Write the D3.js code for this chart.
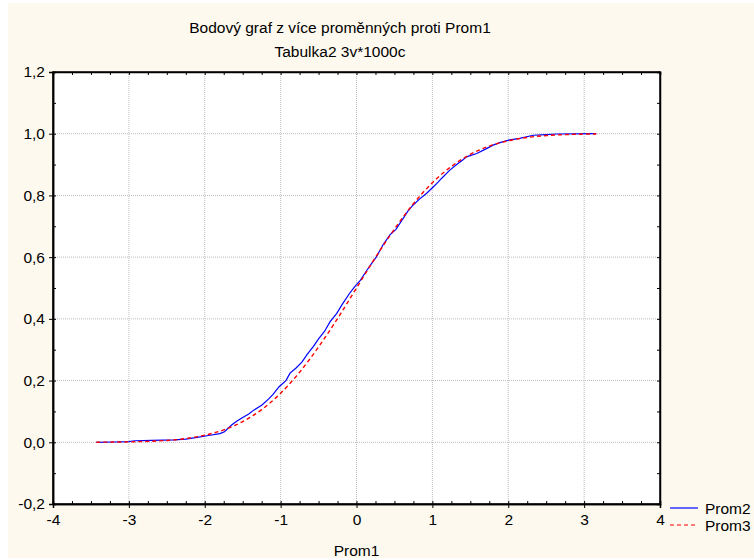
<!DOCTYPE html>
<html>
<head>
<meta charset="utf-8">
<script src="https://cdn.jsdelivr.net/npm/d3@7"></script>
<style>
  body { margin: 0; background: #fff; }
  svg { display: block; font-family: "Liberation Sans", Arial, sans-serif; }
</style>
</head>
<body>
<div id="chart"></div>
<script>
// Prom2: empirical curve (blue, solid)
const prom2X = [-3.43, -3.2, -3.0, -2.92, -2.7, -2.4, -2.25, -2.1, -1.95, -1.8, -1.74, -1.65, -1.58, -1.5,
  -1.42, -1.35, -1.25, -1.16, -1.1, -1.02, -0.93, -0.876, -0.8, -0.72, -0.65, -0.57, -0.5, -0.42, -0.35,
  -0.26, -0.18, -0.09, -0.02, 0.05, 0.13, 0.2, 0.26, 0.35, 0.44, 0.52, 0.6, 0.68, 0.75, 0.83, 0.925, 1.0,
  1.06, 1.12, 1.23, 1.32, 1.4, 1.45, 1.585, 1.7, 1.8, 1.9, 2.02, 2.15, 2.33, 2.5, 2.64, 3.16];
const prom2Y = [0.0, 0.001, 0.002, 0.005, 0.006, 0.008, 0.01, 0.016, 0.022, 0.028, 0.034, 0.055, 0.068, 0.08,
  0.092, 0.105, 0.12, 0.14, 0.155, 0.18, 0.2, 0.224, 0.24, 0.26, 0.285, 0.31, 0.335, 0.36, 0.39,
  0.418, 0.45, 0.483, 0.505, 0.525, 0.555, 0.58, 0.6, 0.64, 0.672, 0.69, 0.72, 0.75, 0.77, 0.788, 0.807, 0.825,
  0.839, 0.855, 0.882, 0.9, 0.915, 0.925, 0.936, 0.95, 0.963, 0.972, 0.98, 0.985, 0.995, 0.997, 0.999, 1.0];

// Prom3: smooth curve (red, dashed)
const prom3X = [-3.43, -3.25, -3.0, -2.75, -2.5, -2.25, -2.0, -1.75, -1.5, -1.25, -1.0, -0.75, -0.5, -0.25,
  0, 0.25, 0.5, 0.75, 1.0, 1.25, 1.5, 1.75, 2.0, 2.25, 2.5, 2.75, 3.0, 3.16];
const prom3Y = [0.0003, 0.0006, 0.0013, 0.003, 0.006, 0.012, 0.023, 0.04, 0.067, 0.106, 0.159, 0.227, 0.309, 0.401,
  0.5, 0.599, 0.691, 0.773, 0.841, 0.894, 0.933, 0.96, 0.977, 0.988, 0.994, 0.997, 0.9987, 0.9992];

const xTicks = [-4, -3, -2, -1, 0, 1, 2, 3, 4];
const yTicks = [-0.2, 0, 0.2, 0.4, 0.6, 0.8, 1.0, 1.2];
const seriesNames = ['Prom2', 'Prom3'];
const titleLines = ['Bodový graf z více proměnných proti Prom1', 'Tabulka2 3v*1000c'];
const xLabel = 'Prom1';

const width = 754;
const height = 560;
const margin = {left: 53, right: 94, top: 72, bottom: 56};
const pw = width - margin.left - margin.right;
const ph = height - margin.top - margin.bottom;
const fs = 15.5;

const svg = d3.select('#chart').append('svg')
  .attr('width', width)
  .attr('height', height);

svg.append('rect')
  .attr('x', 8).attr('y', 3)
  .attr('width', width - 8).attr('height', 555)
  .attr('fill', '#fdf9ee');

const x = d3.scaleLinear().domain([-4, 4]).range([0, pw]);
const y = d3.scaleLinear().domain([-0.2, 1.2]).range([ph, 0]);
const fmt = d => d3.format('.1f')(d).replace('.', ',').replace('−', '-');

const g = svg.append('g')
  .attr('transform', `translate(${margin.left},${margin.top})`);

g.append('rect')
  .attr('width', pw).attr('height', ph)
  .attr('fill', '#fff');

// grid
g.append('g')
  .selectAll('line')
  .data(xTicks.slice(1, -1))
  .join('line')
  .attr('x1', d => x(d)).attr('x2', d => x(d))
  .attr('y1', 0).attr('y2', ph)
  .attr('stroke', '#bdbdbd')
  .attr('stroke-dasharray', '1,1');

g.append('g')
  .selectAll('line')
  .data(yTicks.slice(1, -1))
  .join('line')
  .attr('y1', d => y(d)).attr('y2', d => y(d))
  .attr('x1', 0).attr('x2', pw)
  .attr('stroke', '#bdbdbd')
  .attr('stroke-dasharray', '1,1');

// minor ticks
const xMinor = d3.range(-4, 4.001, 0.25);
const yMinor = d3.range(-0.2, 1.2001, 0.1);

g.append('g').attr('transform', `translate(0,${ph})`)
  .call(d3.axisBottom(x).tickValues(xMinor).tickSize(-3).tickFormat(''));
g.append('g')
  .call(d3.axisTop(x).tickValues(xMinor).tickSize(-3).tickFormat(''));
g.append('g')
  .call(d3.axisLeft(y).tickValues(yMinor).tickSize(-3).tickFormat(''));
g.append('g').attr('transform', `translate(${pw},0)`)
  .call(d3.axisRight(y).tickValues(yMinor).tickSize(-3).tickFormat(''));

// major ticks with labels
g.append('g')
  .attr('transform', `translate(0,${ph})`)
  .call(d3.axisBottom(x).tickValues(xTicks).tickSize(4).tickPadding(6))
  .call(a => a.selectAll('text').text(d => String(d)));

g.append('g')
  .call(d3.axisLeft(y).tickValues(yTicks).tickSize(4).tickPadding(4).tickFormat(fmt));

g.selectAll('.domain').attr('stroke', '#000').attr('stroke-width', 1.5);
g.selectAll('.tick line').attr('stroke', '#000');
g.selectAll('.tick text')
  .attr('font-family', '"Liberation Sans", Arial, sans-serif')
  .attr('font-size', fs)
  .attr('fill', '#000');

// frame
g.append('rect')
  .attr('width', pw).attr('height', ph)
  .attr('fill', 'none')
  .attr('stroke', '#000')
  .attr('stroke-width', 1.5);

// series
const line = d3.line().x(d => x(d[0])).y(d => y(d[1]));

g.append('path')
  .datum(d3.zip(prom2X, prom2Y))
  .attr('fill', 'none')
  .attr('stroke', '#0000ff')
  .attr('stroke-width', 1.2)
  .attr('d', line);

g.append('path')
  .datum(d3.zip(prom3X, prom3Y))
  .attr('fill', 'none')
  .attr('stroke', '#ff0000')
  .attr('stroke-width', 1.4)
  .attr('stroke-dasharray', '4,3')
  .attr('d', line.curve(d3.curveMonotoneX));

// titles
svg.append('g')
  .selectAll('text')
  .data(titleLines)
  .join('text')
  .attr('x', 340)
  .attr('y', (d, i) => 33 + i * 24)
  .attr('text-anchor', 'middle')
  .attr('font-size', fs)
  .text(d => d);

svg.append('text')
  .attr('x', margin.left + pw / 2)
  .attr('y', 556)
  .attr('text-anchor', 'middle')
  .attr('font-size', fs)
  .text(xLabel);

// legend
const legend = svg.append('g')
  .attr('transform', 'translate(670,508)')
  .selectAll('g')
  .data(seriesNames)
  .join('g')
  .attr('transform', (d, i) => `translate(0,${i * 17})`);

legend.append('line')
  .attr('x1', 0).attr('x2', 28)
  .attr('stroke', (d, i) => i ? '#ff0000' : '#0000ff')
  .attr('stroke-width', 1.2)
  .attr('stroke-dasharray', (d, i) => i ? '4,3' : null);

legend.append('text')
  .attr('x', 35)
  .attr('y', 5.5)
  .attr('font-size', fs)
  .text(d => d);
</script>
</body>
</html>
